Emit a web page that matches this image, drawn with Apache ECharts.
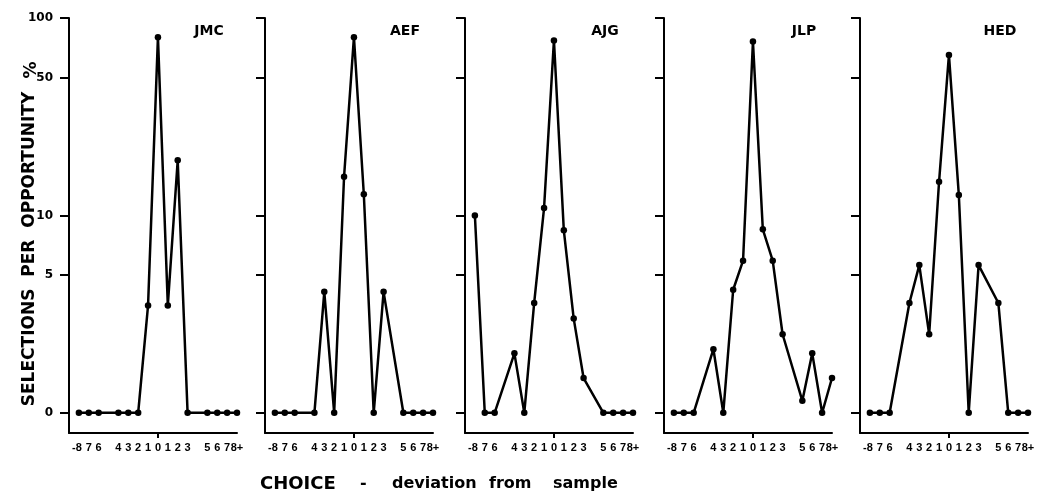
<!DOCTYPE html>
<html>
<head>
<meta charset="utf-8">
<script src="https://cdn.jsdelivr.net/npm/echarts@6/dist/echarts.min.js"></script>
<style>
html, body { margin: 0; background: #fff; }
#chart { width: 1040px; height: 495px; }
</style>
</head>
<body>
<div id="chart"></div>
<script>
// deviation of the choice from the sample; -5 and 4 were not offered
var deviations = [-8, -7, -6, -5, -4, -3, -2, -1, 0, 1, 2, 3, 4, 5, 6, 7, 8];
var tickLabels = ['-8', '7', '6', '', '4', '3', '2', '1', '0', '1', '2', '3', '', '5', '6', '7', '8+'];

var subjects = ['JMC', 'AEF', 'AJG', 'JLP', 'HED'];

// selections per opportunity, %  (null = not offered)
var jmc = [0, 0, 0, null, 0, 0, 0, 3.5, 80, 3.5, 19, 0, null, 0, 0, 0, 0];
var aef = [0, 0, 0, null, 0, 4.1, 0, 15.7, 80, 12.8, 0, 4.1, null, 0, 0, 0, 0];
var ajg = [10, 0, 0, null, 2.0, 0, 3.6, 10.9, 77, 8.4, 3.0, 1.5, null, 0, 0, 0, 0];
var jlp = [0, 0, 0, null, 2.1, 0, 4.2, 5.9, 76, 8.5, 5.9, 2.5, null, 1.15, 2.0, 0, 1.5];
var hed = [0, 0, 0, null, 3.6, 5.6, 2.5, 14.8, 65, 12.7, 0, 5.6, null, 3.6, 0, 0, 0];

// log scale; zero is drawn on the "1" line and labelled 0
var zeroLevel = 1;
var yTicks = [1, 5, 10, 50, 100];
var yTickLabels = ['0', '5', '10', '50', '100'];

var panelData = [jmc, aef, ajg, jlp, hed];
var panelLeft = [69, 265, 465, 664, 860];
var FONT = 'DejaVu Sans';

function yLabel(v){
    for (var k = 0; k < yTicks.length; k++) {
        if (Math.abs(Math.log(v) - Math.log(yTicks[k])) < 0.01) return yTickLabels[k];
    }
    return '';
}

function xLabel(v){
    var k = deviations.indexOf(Math.round(v));
    if (k < 0) return '';
    // keep the digit itself centred under its point
    return k === 0 ? '{lead|' + tickLabels[k] + '}' : tickLabels[k];
}

var xLabelValues = deviations.filter(function(d, k){ return tickLabels[k] !== ''; });
var axisLineStyle = { color: '#000', width: 2 };

var grids = [], xAxes = [], yAxes = [], series = [], graphics = [];

panelData.forEach(function(vals, i){
    grids.push({ left: panelLeft[i], top: 18, width: 168, height: 415 });

    xAxes.push({
        type: 'value', gridIndex: i, min: -9, max: 8,
        axisLine: { show: true, onZero: false, lineStyle: axisLineStyle },
        splitLine: { show: false },
        axisTick: { show: true, customValues: [0], length: 5, lineStyle: axisLineStyle },
        axisLabel: {
            customValues: xLabelValues, formatter: xLabel, margin: 9,
            showMinLabel: true, showMaxLabel: true,
            color: '#000', fontFamily: 'Liberation Sans', fontWeight: 'bold', fontSize: 11,
            rich: { lead: { padding: [0, 4, 0, 0], fontFamily: 'Liberation Sans', fontWeight: 'bold', fontSize: 11, color: '#000' } }
        }
    });

    yAxes.push({
        type: 'log', gridIndex: i, min: 0.79, max: 100,
        axisLine: { show: true, onZero: false, lineStyle: axisLineStyle },
        splitLine: { show: false },
        axisTick: { show: true, customValues: yTicks, length: 9, lineStyle: axisLineStyle },
        axisLabel: {
            show: i === 0, customValues: yTicks, formatter: yLabel, margin: 16,
            color: '#000', fontFamily: FONT, fontWeight: 'bold', fontSize: 12
        }
    });

    var points = [];
    deviations.forEach(function(d, k){
        if (vals[k] === null) return;
        points.push([d, vals[k] === 0 ? zeroLevel : vals[k]]);
    });

    series.push({
        type: 'line', xAxisIndex: i, yAxisIndex: i, data: points,
        symbol: 'circle', symbolSize: 6.5,
        itemStyle: { color: '#000' },
        lineStyle: { color: '#000', width: 2.5 }
    });

    graphics.push({
        type: 'text', x: panelLeft[i] + 140, y: 31,
        style: { text: subjects[i], fill: '#000', font: 'bold 14px ' + FONT, align: 'center', verticalAlign: 'middle' }
    });
});

graphics.push({
    type: 'text', x: 30, y: 249, rotation: Math.PI / 2,
    style: { text: 'SELECTIONS  PER  OPPORTUNITY', fill: '#000', font: 'bold 17px ' + FONT, align: 'center', verticalAlign: 'middle' }
});
graphics.push({
    type: 'text', x: 32, y: 70, rotation: Math.PI / 2,
    style: { text: '%', fill: '#000', font: 'bold 17px ' + FONT, align: 'center', verticalAlign: 'middle' }
});

// x axis caption, word by word as spaced in the original
var captionWords = ['CHOICE', '-', 'deviation', 'from', 'sample'];
var captionX = [260, 360, 392, 489, 553];
captionWords.forEach(function(w, k){
    graphics.push({
        type: 'text', x: captionX[k], y: 484,
        style: { text: w, fill: '#000', font: 'bold ' + (k === 0 ? 18 : 16) + 'px ' + FONT, align: 'left', verticalAlign: 'middle' }
    });
});

var chart = echarts.init(document.getElementById('chart'));
chart.setOption({
    animation: false,
    backgroundColor: '#fff',
    grid: grids,
    xAxis: xAxes,
    yAxis: yAxes,
    series: series,
    graphic: graphics
});
</script>
</body>
</html>
